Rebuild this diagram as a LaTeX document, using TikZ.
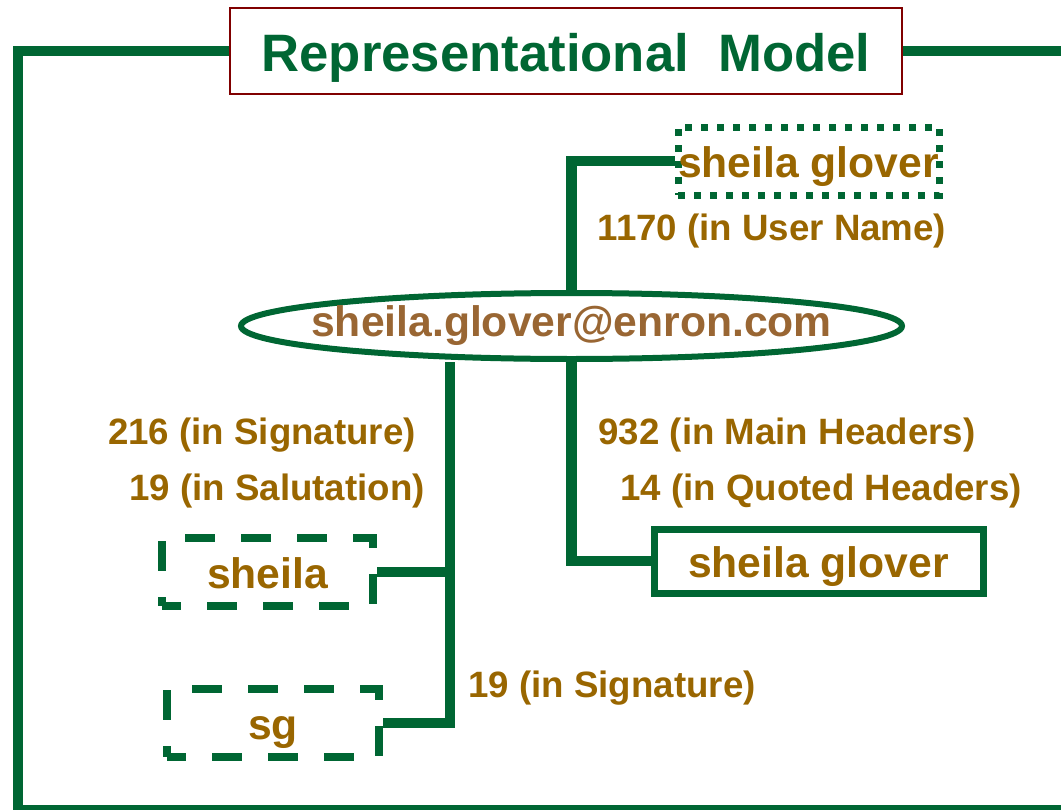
\documentclass[tikz,border=0pt]{standalone}
\usepackage{fontspec}
\setmainfont{Liberation Sans}
\usetikzlibrary{positioning,shapes.geometric}

\definecolor{modelgreen}{HTML}{006633}
\definecolor{countgold}{HTML}{996600}
\definecolor{mailbrown}{HTML}{996633}
\definecolor{titlered}{HTML}{800000}

% occurrence counts next to the links
\newcommand{\cnt}[1]{\fontsize{27.5}{30}\selectfont\bfseries\textcolor{countgold}{#1}}

\begin{document}
\begin{tikzpicture}[x=0.75pt,y=-0.75pt,
  frameline/.style={line width=7.5pt,draw=modelgreen},
  link/.style={line width=8pt,draw=modelgreen},
  nametext/.style={inner sep=0pt,text=countgold,text height=24pt,text depth=0pt,
    font=\fontsize{32}{36}\selectfont\bfseries},
  solidbox/.style={nametext,draw=modelgreen,line width=5.25pt},
  dashbox/.style={nametext,draw=modelgreen,line width=6pt,dash pattern=on 22.5pt off 19.5pt,dash phase=8pt},
  dotbox/.style={nametext,draw=modelgreen,line width=5.25pt,dash pattern=on 5.25pt off 6.75pt}]
  \useasboundingbox (0,0) rectangle (1061,810);

  \node (title) at (566,51) [draw=titlered,line width=1.5pt,minimum width=504pt,minimum height=64.5pt,
    text=modelgreen,text height=30pt,text depth=0pt,
    font=\fontsize{39.5}{44}\selectfont\bfseries] {Representational\ \ Model};
  \coordinate (frameTR) at (1075,51);
  \coordinate (frameBL) at (18,810);
  \coordinate (frameBR) at (1075,810);
  \draw [frameline] (title.west) -| (frameBL) -- (frameBR);
  \draw [frameline] (title.east) -- (frameTR);

  \node (mail) at (571.5,326) [ellipse,draw=modelgreen,line width=4.5pt,inner sep=0pt,
    minimum width=495.75pt,minimum height=49.5pt] {};
  \node (mailtext) at (mail) [inner sep=0pt,text=mailbrown,
    font=\fontsize{32}{36}\selectfont\bfseries] {sheila.glover@enron.com};

  \node (user) at (808.5,161) [dotbox,minimum width=195.75pt,minimum height=51pt] {sheila glover};
  \node (hdr) at (818.5,561) [solidbox,minimum width=246.75pt,minimum height=48pt] {sheila glover};
  \node (first) at (267.5,572) [dashbox,minimum width=158.25pt,minimum height=51pt] {sheila};
  \node (initials) at (273,723) [dashbox,minimum width=159pt,minimum height=51pt] {sg};

  \coordinate (trunk) at (450,0);
  \draw [link] (mail.north) |- (user.west);
  \draw [link] (mail.south) |- (hdr.west);
  \draw [link] (mail.south -| trunk) |- (initials.east);
  \draw [link] (first.east) -- (first.east -| trunk);

  \node (usercnt) at (772,231) {\cnt{1170 (in User Name)}};
  \node (sigcnt) at (262,435) {\cnt{216 (in Signature)}};
  \node (salcnt) at (277,491) {\cnt{19 (in Salutation)}};
  \node (maincnt) at (787,435) {\cnt{932 (in Main Headers)}};
  \node (quotcnt) at (821,491) {\cnt{14 (in Quoted Headers)}};
  \node (sgcnt) at (612,688) {\cnt{19 (in Signature)}};
\end{tikzpicture}
\end{document}
